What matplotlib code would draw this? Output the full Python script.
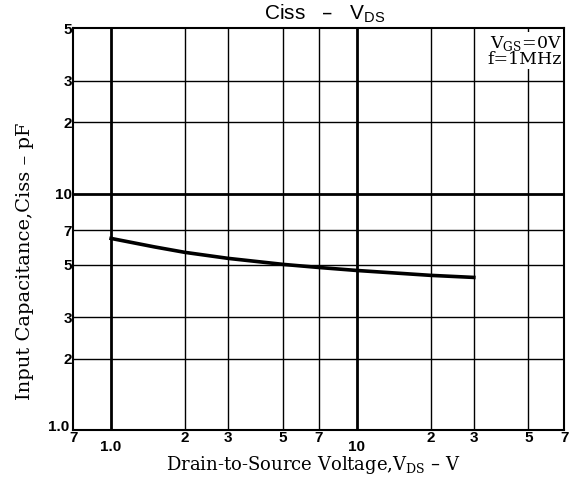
import matplotlib
matplotlib.use("Agg")
import matplotlib.pyplot as plt
import matplotlib.transforms as mtransforms

# curve
vds = [1.0, 1.5, 2.0, 3.0, 5.0, 7.0, 10.0, 15.0, 20.0, 30.0]
ciss = [6.46, 5.95, 5.64, 5.32, 5.02, 4.87, 4.73, 4.60, 4.51, 4.42]

x_ticks = [0.7, 1.0, 2, 3, 5, 7, 10, 20, 30, 50, 70]
x_labels = ["7", "1.0", "2", "3", "5", "7", "10", "2", "3", "5", "7"]
y_ticks = [1.0, 2, 3, 5, 7, 10, 20, 30, 50]
y_labels = ["1.0", "2", "3", "5", "7", "10", "2", "3", "5"]

serif = ["DejaVu Serif"]
sans = ["Liberation Sans", "DejaVu Sans"]

fig = plt.figure(figsize=(5.71, 4.86), dpi=100)
ax = fig.add_axes([0.128, 0.115, 0.86, 0.827])
ax.set_xscale("log")
ax.set_yscale("log")
ax.set_xlim(0.7, 70)
ax.set_ylim(1.0, 50)

ax.set_xticks(x_ticks)
ax.set_xticklabels(x_labels, fontsize=11, fontweight="bold", family=sans)
ax.set_yticks(y_ticks)
ax.set_yticklabels(y_labels, fontsize=11, fontweight="bold", family=sans)
ax.minorticks_off()
ax.tick_params(length=0, pad=1)

# "1.0" and "10" sit a bit lower than the other x labels
for lab in ax.get_xticklabels():
    if lab.get_text() in ("1.0", "10"):
        off = mtransforms.ScaledTranslation(0, -6 / 72, fig.dpi_scale_trans)
        lab.set_transform(lab.get_transform() + off)
# bottom y label nudged up-left so it clears the "7" below it
for lab in ax.get_yticklabels():
    if lab.get_text() == "1.0":
        off = mtransforms.ScaledTranslation(-2 / 72, 3 / 72, fig.dpi_scale_trans)
        lab.set_transform(lab.get_transform() + off)

# grid
for v in x_ticks[1:-1]:
    ax.axvline(v, color="black", lw=2.0 if v in (1.0, 10) else 1.0, zorder=1)
for v in y_ticks[1:-1]:
    ax.axhline(v, color="black", lw=2.0 if v == 10 else 1.0, zorder=1)
for s in ax.spines.values():
    s.set_linewidth(1.5)

ax.plot(vds, ciss, color="black", lw=2.6, zorder=3)

ax.text(0.995, 0.985, "V$_{\\mathregular{GS}}$=0V\nf=1MHz", transform=ax.transAxes,
        ha="right", va="top", fontsize=12.5, family=serif, linespacing=0.8,
        bbox=dict(facecolor="white", edgecolor="none", pad=1))

fig.text(0.569, 0.972, "Ciss   –   V$_{\\mathregular{DS}}$", ha="center", va="center",
         fontsize=15, family=sans)
ax.set_xlabel("Drain-to-Source Voltage,V$_{\\mathregular{DS}}$ – V", fontsize=13,
              family=serif, labelpad=0)
ax.xaxis.set_label_coords(0.49, -0.06)
ax.set_ylabel("Input Capacitance,Ciss – pF", fontsize=14, family=serif)
ax.yaxis.set_label_coords(-0.08, 0.42)

fig.savefig("out.png", dpi=100)
